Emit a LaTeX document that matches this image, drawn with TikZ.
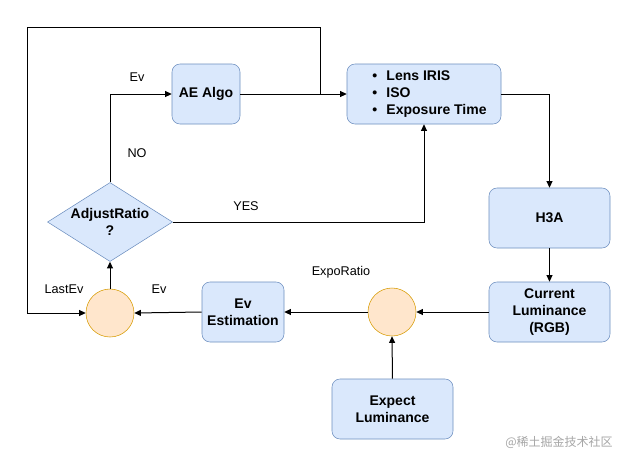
\documentclass[tikz,border=0pt]{standalone}
\usepackage{fontspec}
\setmainfont{Liberation Sans}
\newfontfamily\cjk{Noto Sans CJK SC}
\usetikzlibrary{shapes.geometric,arrows.meta}
\definecolor{boxfill}{HTML}{DAE8FC}
\definecolor{boxline}{HTML}{6C8EBF}
\definecolor{circfill}{HTML}{FFE6CC}
\definecolor{circline}{HTML}{D79B00}
\tikzset{
  box/.style={draw=boxline, fill=boxfill, rounded corners=6pt, inner sep=0pt, align=center, font=\fontsize{10.5}{12.75}\selectfont\bfseries},
  circ/.style={draw=circline, fill=circfill, circle, inner sep=0pt, minimum size=36pt},
  dia/.style={draw=boxline, fill=boxfill, diamond, inner sep=0pt},
  lbl/.style={font=\fontsize{9.5}{11}\selectfont},
  conn/.style={draw, line width=0.75pt, -{Triangle[length=5pt,width=4.5pt]}},
  plain/.style={draw, line width=0.75pt}
}
\begin{document}
\begin{tikzpicture}[x=0.75pt,y=-0.75pt]
\useasboundingbox[fill=white] (0,0) rectangle (622,455);
% boxes
\node[box, minimum width=51pt, minimum height=45pt] (ae) at (206,94) {AE Algo};
\node[box, minimum width=115.5pt, minimum height=45pt] (lens) at (424,94) {};
\node[box, minimum width=90.75pt, minimum height=45pt] (h3a) at (549.5,218) {H3A};
\node[box, minimum width=90.75pt, minimum height=45pt] (cur) at (549.5,312) {Current\\Luminance\\(RGB)};
\node[box, minimum width=61.5pt, minimum height=45pt] (evest) at (243,312) {Ev\\Estimation};
\node[box, minimum width=90.75pt, minimum height=45pt] (exp) at (392.5,409) {Expect\\Luminance};
\node[circ] (c1) at (110,313) {};
\node[circ] (c2) at (392,312) {};
\node[dia, minimum width=93.75pt, minimum height=59.25pt] (dec) at (110,222) {};
\node[box, draw=none, fill=none] (dectxt) at (dec) {AdjustRatio\\?};
% lens list
\node[box, draw=none, fill=none, align=left, anchor=west] (lenstxt) at (372,94) {%
  \textbullet\hspace{7pt}Lens IRIS\\
  \textbullet\hspace{7pt}ISO\\
  \textbullet\hspace{7pt}Exposure Time};
% coordinates
\coordinate (tl) at (27,27);
\coordinate (tr) at (320,27);
\coordinate (tj) at (320,94);
\coordinate (bl) at (27,313);
\coordinate (aeup) at (110,94);
\coordinate (yesc) at (424,222);
\coordinate (lensr) at (549.5,94);
% connectors
\draw[conn] (dec.north) -- (aeup) -- (ae.west);
\draw[conn] (ae.east) -- (lens.west);
\draw[plain] (tj) -- (tr) -- (tl) -- (bl);
\draw[conn] (bl) -- (c1.west);
\draw[conn] (dec.east) -- (yesc) -- (lens.south);
\draw[conn] (lens.east) -- (lensr) -- (h3a.north);
\draw[conn] (h3a.south) -- (cur.north);
\draw[conn] (cur.west) -- (c2.east);
\draw[conn] (c2.west) -- (evest.east);
\draw[conn] (evest.west) -- (c1.east);
\draw[conn] (c1.north) -- (dec.south);
\draw[conn] (exp.north) -- (c2.south);
% labels
\node[lbl] (lev) at (137,77) {Ev};
\node[lbl] (lno) at (137,153) {NO};
\node[lbl] (lyes) at (246,206) {YES};
\node[lbl] (llast) at (64,289) {LastEv};
\node[lbl] (lev2) at (159,289) {Ev};
\node[lbl] (lexpo) at (341,272) {ExpoRatio};
\node[font=\cjk\fontsize{9}{10}\selectfont, text=black!35] (wm) at (559,442) {@稀土掘金技术社区};
\end{tikzpicture}
\end{document}
